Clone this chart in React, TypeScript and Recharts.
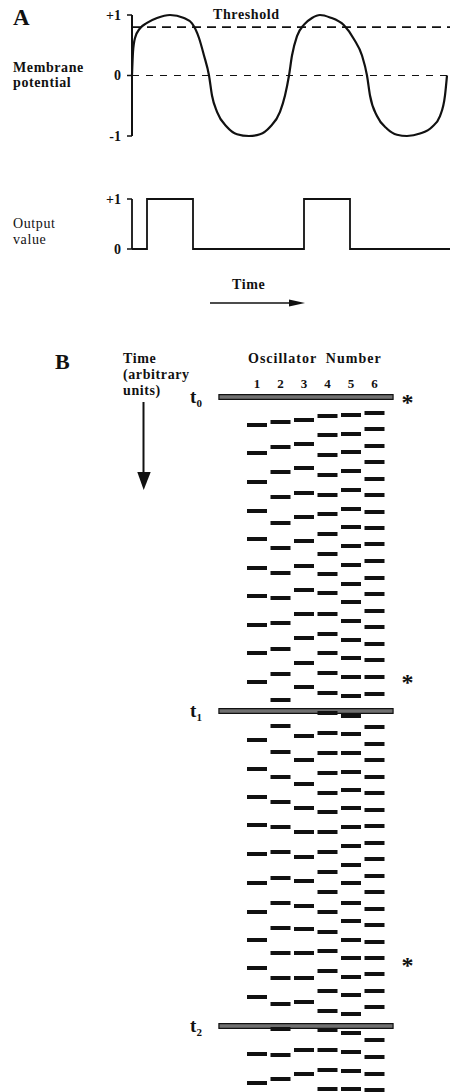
import React from 'react';
import {
  LineChart, Line, XAxis, YAxis, ReferenceLine,
  ScatterChart, Scatter, ReferenceArea, ReferenceDot,
} from 'recharts';

// Panel A: membrane potential trace (time, value)
const memTime = [0, 1, 3, 8, 15, 25, 38, 52, 60, 67, 72, 77, 80, 85, 95, 105, 117, 128, 138, 148, 153, 157,
  160, 165, 172, 180, 188, 198, 212, 222, 230, 235, 238, 245, 255, 265, 275, 288, 300, 308, 313, 315];
const memValue = [0, 0.39, 0.62, 0.78, 0.87, 0.95, 1.0, 0.95, 0.86, 0.62, 0.33, 0, -0.33, -0.6, -0.85, -0.97, -1.0, -0.97, -0.85, -0.6, -0.33, 0,
  0.33, 0.65, 0.84, 0.95, 1.0, 0.96, 0.83, 0.6, 0.33, 0, -0.33, -0.67, -0.88, -0.98, -1.0, -0.96, -0.85, -0.67, -0.33, 0];
const threshold = 0.8;

// Panel A: output value (step)
const outTime = [0, 15, 61, 172, 218, 318];
const outValue = [0, 1, 0, 1, 0, 0];

// Panel B: firing times of each oscillator (arbitrary units, t0 = 0)
const osc1 = [28, 56, 85, 114, 142, 171, 199, 228, 256, 285, 343, 372, 400, 428, 457, 486, 515, 543, 571, 600, 657, 686];
const osc2 = [25, 50, 75, 100, 126, 151, 176, 201, 226, 252, 277, 303, 329, 355, 380, 405, 430, 455, 481, 506, 531, 556, 581, 607, 632, 658, 682];
const osc3 = [23, 47, 71, 96, 120, 144, 169, 193, 217, 241, 266, 290, 339, 363, 387, 411, 435, 460, 484, 509, 532, 556, 581, 605, 653, 677];
const osc4 = [19, 38, 58, 78, 98, 117, 137, 157, 177, 196, 217, 237, 256, 276, 296, 316, 336, 356, 376, 396, 415, 435, 455, 475, 495, 515, 535, 554, 574, 594, 614, 633, 653, 673, 692];
const osc5 = [18, 37, 55, 74, 93, 112, 130, 149, 168, 187, 205, 224, 243, 261, 280, 299, 319, 337, 356, 375, 393, 411, 430, 449, 468, 486, 506, 524, 543, 561, 580, 598, 617, 636, 655, 674, 692];
const osc6 = [16, 32, 49, 65, 82, 98, 115, 131, 147, 164, 181, 197, 214, 230, 247, 263, 280, 297, 330, 347, 363, 380, 396, 413, 429, 446, 462, 479, 495, 512, 528, 545, 561, 577, 594, 610, 643, 660, 677, 693];
const oscNumbers = [1, 2, 3, 4, 5, 6];
const syncTimes = [0, 314, 629];
const syncLabels = ['0', '1', '2'];
const starTimes = [1, 281, 564];

const FONT = '"Liberation Serif", "Times New Roman", serif';
const INK = '#111';

const memData = memTime.map((t, i) => ({ t, v: memValue[i] }));
const outData = outTime.map((t, i) => ({ t, v: outValue[i] }));
const oscillators = [osc1, osc2, osc3, osc4, osc5, osc6].map((times, i) =>
  times.map((t) => ({ osc: oscNumbers[i], t }))
);

const tickStyle = { fill: INK, fontSize: 14, fontWeight: 'bold', fontFamily: FONT };

const Dash = (props: any) => (
  <rect x={props.cx - 10} y={props.cy - 2} width={20} height={4} fill={INK} />
);

const Star = (props: any) => (
  <text x={props.cx} y={props.cy + 12} textAnchor="middle" fontSize={24} fontWeight="bold" fontFamily={FONT} fill={INK}>*</text>
);

const label = (style: React.CSSProperties, text: React.ReactNode) => (
  <div style={{ position: 'absolute', fontFamily: FONT, fontWeight: 'bold', color: INK, fontSize: 14, lineHeight: 1, letterSpacing: 0.6, whiteSpace: 'pre', ...style }}>
    {text}
  </div>
);

export default function App() {
  return (
    <div style={{ position: 'absolute', left: 0, top: 0, width: 451, height: 1092, background: '#fff', overflow: 'hidden' }}>
      {label({ left: 13, top: 6, fontSize: 23, letterSpacing: 0 }, 'A')}
      {label({ left: 13, top: 60, lineHeight: '15px' }, 'Membrane\npotential')}
      {label({ left: 213, top: 8 }, 'Threshold')}
      {label({ left: 13, top: 216, lineHeight: '16px', fontWeight: 'normal' }, 'Output\nvalue')}
      {label({ left: 232, top: 278 }, 'Time')}
      <svg style={{ position: 'absolute', left: 0, top: 0 }} width={451} height={500}>
        <line x1={210} y1={303} x2={292} y2={303} stroke={INK} strokeWidth={1.5} />
        <polygon points="289,299.5 305,303 289,306.5" fill={INK} />
        <line x1={143.5} y1={402} x2={143.5} y2={474} stroke={INK} strokeWidth={2} />
        <polygon points="137.3,472 150.7,472 143.7,490" fill={INK} />
      </svg>

      <div style={{ position: 'absolute', left: 0, top: 0 }}>
        <LineChart width={451} height={150} data={memData} margin={{ top: 15, right: 1, bottom: 14, left: 92 }}>
          <XAxis type="number" dataKey="t" domain={[0, 318]} hide />
          <YAxis
            width={40}
            domain={[-1, 1]}
            ticks={[-1, 0, 1]}
            tickFormatter={(v: number) => (v > 0 ? '+1' : String(v))}
            tick={tickStyle}
            tickSize={5}
            tickMargin={6}
            axisLine={{ stroke: INK, strokeWidth: 2 }}
            tickLine={{ stroke: INK, strokeWidth: 1.5 }}
          />
          <ReferenceLine y={0} stroke={INK} strokeWidth={1} strokeDasharray="7 7" />
          <ReferenceLine y={threshold} stroke={INK} strokeWidth={1.8} strokeDasharray="9 6" />
          <Line type="monotone" dataKey="v" stroke={INK} strokeWidth={2.2} dot={false} isAnimationActive={false} />
        </LineChart>
      </div>

      <div style={{ position: 'absolute', left: 0, top: 180 }}>
        <LineChart width={451} height={80} data={outData} margin={{ top: 19, right: 1, bottom: 11, left: 92 }}>
          <XAxis type="number" dataKey="t" domain={[0, 318]} hide />
          <YAxis
            width={40}
            domain={[0, 1]}
            ticks={[0, 1]}
            tickFormatter={(v: number) => (v > 0 ? '+1' : '0')}
            tick={tickStyle}
            tickSize={5}
            tickMargin={6}
            axisLine={{ stroke: INK, strokeWidth: 1.8 }}
            tickLine={{ stroke: INK, strokeWidth: 1.5 }}
          />
          <Line type="stepAfter" dataKey="v" stroke={INK} strokeWidth={1.8} dot={false} isAnimationActive={false} />
        </LineChart>
      </div>

      {label({ left: 55, top: 351, fontSize: 22, letterSpacing: 0 }, 'B')}
      {label({ left: 123, top: 351, lineHeight: '16px' }, 'Time\n(arbitrary\nunits)')}
      {label({ left: 248, top: 352, letterSpacing: 1 }, 'Oscillator  Number')}

      <div style={{ position: 'absolute', left: 0, top: 330 }}>
        <ScatterChart width={451} height={762} margin={{ top: 37, right: 64.75, bottom: 0, left: 245.25 }}>
          <XAxis
            type="number"
            dataKey="osc"
            orientation="top"
            height={30}
            domain={[0.5, 6.5]}
            ticks={oscNumbers}
            tick={{ ...tickStyle, fontSize: 13 }}
            tickSize={0}
            tickMargin={9}
            axisLine={false}
            tickLine={false}
          />
          <YAxis type="number" dataKey="t" domain={[0, 695]} reversed hide allowDataOverflow />
          {syncTimes.map((t, i) => (
            <ReferenceArea
              key={'sync' + i}
              x1={-0.62}
              x2={6.79}
              y1={t - 2.3}
              y2={t + 2.3}
              ifOverflow="visible"
              fill="#707070"
              fillOpacity={1}
              stroke={INK}
              strokeWidth={1.2}
              label={(p: any) => (
                <text x={p.viewBox.x - 17} y={p.viewBox.y + p.viewBox.height / 2 + 6} textAnchor="end" fontFamily={FONT} fontWeight="bold" fill={INK} fontSize={19}>
                  t<tspan fontSize={11} dy={4}>{syncLabels[i]}</tspan>
                </text>
              )}
            />
          ))}
          {oscillators.map((data, i) => (
            <Scatter key={'osc' + i} data={data} shape={Dash} isAnimationActive={false} />
          ))}
          {starTimes.map((t, i) => (
            <ReferenceDot key={'star' + i} x={7.4} y={t} r={0} ifOverflow="visible" shape={Star} />
          ))}
        </ScatterChart>
      </div>
    </div>
  );
}
